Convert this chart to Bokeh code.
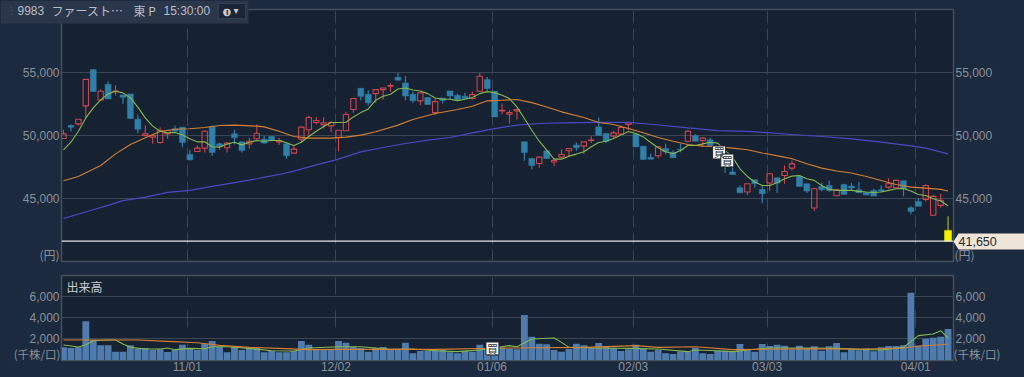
from bokeh.plotting import figure
from bokeh.layouts import column
from bokeh.models import FixedTicker, LinearAxis, Span, NumeralTickFormatter, Range1d
from bokeh.core.properties import value
from bokeh.embed import file_html
from bokeh.resources import INLINE

opens = [49760,50790,50920,52340,55210,52810,54050,53470,53210,53290,51290,50000,49870,49450,50130,50530,50660,48500,48740,49000,
         50710,49340,49030,50130,49500,49340,49740,49710,49920,49500,49340,48610,49710,50450,51030,50840,50760,49840,50370,52050,
         53730,53260,53310,53630,53900,54600,54160,53260,52740,53000,51810,52970,53520,53180,53100,52920,53500,54420,53500,51950,
         51680,51950,49500,48190,47790,48790,47900,48290,48790,49240,49160,49600,50680,50160,49950,50110,50870,50110,49160,48260,
         48400,48970,48680,48920,49550,50000,49610,49660,49100,48300,47110,45870,45530,46500,45740,46240,46660,46840,47420,46760,
         46190,44270,45970,46050,45240,46130,46000,45710,45480,45660,45710,45920,45870,46420,44290,44790,44950,43690,44480,42500]
highs = [50450,50870,51290,54440,55210,53660,54260,53970,53210,53290,51660,50820,50050,50660,50450,50790,50660,48870,49210,50400,
         50790,49420,49470,50450,49500,49820,50870,49970,49970,49820,49400,49180,50660,51580,51450,51450,51130,50420,51870,52920,
         53730,53580,53630,53760,54160,54940,54710,53450,53370,53000,52920,52970,53520,53310,53370,53450,54940,54630,53500,52520,
         52000,52130,49500,48190,48290,48790,48190,48900,48970,49450,49500,49950,51420,50160,50370,50790,51080,50110,49160,48580,
         49160,49370,48820,49340,50450,50100,49870,49820,49100,48500,47500,46050,46190,46500,46000,46980,46660,47630,48030,46800,
         46190,45870,46240,46450,45800,46190,46240,46320,45530,45800,46050,46630,46520,46420,44400,45050,46130,45320,45400,43610]
lows = [49760,50340,50790,51450,53470,52710,52890,53160,52500,51340,50180,49920,49340,49340,49740,50340,49080,48030,48690,48660,
        48370,48870,48660,49290,48660,48950,49660,49340,49550,49240,48160,48610,49450,50000,50870,50530,50260,48760,50370,51790,
        52790,52390,52580,52840,53450,54370,52790,52580,52390,52450,51600,52520,52840,52740,52840,52840,53450,53500,51470,51680,
        50920,51260,48000,47320,47450,48160,47580,48160,48320,48790,48530,49420,50000,49400,49760,50110,50420,49100,48110,48130,
        48210,48500,48240,48680,49450,49550,49160,49210,48500,47030,46920,45420,45270,45870,44660,45610,45450,46190,47240,45970,
        45450,44030,45600,45530,45240,45340,45660,45480,45290,45210,45530,45790,45870,45190,43770,44400,44790,43690,44290,41650]
closes = [50130,50660,51290,54440,53470,53500,52890,53520,53020,51340,50500,50130,50000,50400,50400,50340,49450,48080,49000,50340,
          48660,49160,49400,49820,48820,49550,50180,49400,49610,49610,48400,48920,50660,51420,51180,51000,51030,50420,51660,52920,
          53100,52580,53630,53760,53950,54370,53130,52740,53370,52450,52680,52760,53130,52840,52950,53230,54680,53710,51470,52000,
          51810,52050,48660,47630,48290,48190,48030,48500,48970,49030,49500,49650,50000,49530,50210,50630,51000,49100,48110,48130,
          49100,48710,48240,48870,50340,49550,49790,49210,48700,47900,46920,45480,46190,46190,45400,46980,46240,47160,47760,45970,
          45610,45790,45710,45660,45710,45340,45840,45480,45290,45210,45610,46190,46450,45790,44000,44400,46050,45190,44870,41650]

ma_short = [48870,49470,50340,51390,52180,52810,53290,53500,53370,52970,52240,51390,50740,50340,50210,50240,50050,49740,49500,49500,
            49110,49080,49320,49470,49260,49470,49610,49550,49610,49610,49420,49210,49470,49920,50340,50710,51030,51030,51050,51470,
            51810,52100,52790,53100,53260,53680,53760,53600,53520,53310,52970,52870,52870,52760,52870,53000,53310,53470,53390,53180,
            52920,52260,51340,50420,49550,48840,48130,48130,48370,48530,48710,49110,49450,49550,49760,50030,50320,50160,49890,49450,
            49030,48710,48550,48820,49210,49210,49340,49470,49400,48820,48290,47370,46760,46320,46050,46050,46260,46580,46790,46840,
            46580,46450,46050,45740,45660,45660,45660,45580,45530,45500,45530,45660,45790,45820,45610,45340,45260,45000,44820,44450]
ma_mid_idx = [0,2,5,7,9,11,13,15,17,19,21,23,26,27,29,31,33,36,38,40,42,45,47,50,53,55,57,59,61,63,65,67,70,72,74,76,78,80,82,84,86,88,90,92,94,97,98,100,102,104,106,108,110,112,114,116,118,119]
ma_mid = [46420,46760,47630,48550,49290,49820,50320,50500,50530,50630,50790,50820,50740,50680,50340,49920,49790,49790,49870,50030,50290,50820,51260,51740,52050,52310,52740,52790,52840,52600,52260,51870,51420,51030,50870,50550,50210,49840,49550,49290,49160,49130,49000,48870,48610,48290,48160,47760,47420,47190,47030,46760,46450,46130,45920,45840,45740,45610]
ma_long_idx = [0,3,6,8,11,14,17,20,23,26,29,31,34,37,40,43,46,49,52,55,58,61,64,67,72,76,79,84,88,92,94,98,102,106,110,114,116,119]
ma_long = [43450,43950,44480,44850,45130,45500,45660,45980,46270,46580,46920,47190,47680,48130,48710,49050,49370,49630,49840,50210,50550,50820,50950,51000,51030,51030,50890,50600,50390,50320,50240,50080,49920,49740,49470,49180,49000,48550]

volumes = [1200,1140,1200,3670,1900,1390,1390,790,790,1390,1070,1140,950,1010,760,950,1450,1140,950,1520,
           1800,1260,730,1230,950,1140,1140,730,850,730,730,850,1800,1450,950,1010,950,1800,1640,1260,
           1140,790,1140,1230,950,1010,1640,630,850,850,1010,950,730,630,880,790,1450,1070,1260,1170,
           1100,1010,4270,2210,1550,1490,950,790,1040,1550,1390,1170,1610,1230,1170,850,1010,1450,1140,790,
           950,630,570,800,790,1140,630,570,880,880,790,1520,1010,790,1520,1330,1450,1360,1010,1360,
           1140,1300,880,1300,1610,730,1010,920,1100,820,1200,1330,1330,1390,6380,1330,2020,2120,2210,2940]
vol_short_idx = [0,2,3,4,6,7,8,9,11,13,14,15,17,19,20,22,25,28,31,33,37,40,44,47,50,53,56,60,61,63,66,67,68,72,76,80,84,85,88,90,92,95,100,104,107,110,113,115,117,118,119]
vol_short = [1420,1230,1450,1830,1900,1900,1520,1200,1040,1040,1140,980,1100,1070,1260,1260,1100,880,850,1140,1260,1260,1010,1040,880,790,950,1360,1260,1990,2090,1670,1200,1140,1100,1040,790,950,880,790,950,1140,1140,1100,1010,950,1200,2310,2460,2780,2090]
vol_mid_idx = [0,10,14,18,21,25,29,33,37,50,60,70,77,80,85,90,100,108,113,115,118,119]
vol_mid = [1900,1900,1770,1640,1390,1200,1100,980,1010,1010,1140,1200,1360,1200,1260,980,1070,1040,1140,1330,1450,1520]

date_pos = [16.65,36.65,57.65,76.65,94.65,114.65]
date_labels = ["11/01","12/02","01/06","02/03","03/03","04/01"]
price_ticks = [45000,50000,55000]
vol_ticks = [2000,4000,6000]
last_price = 41650
buy_x = [88.2,89.3]
buy_y = [48660,48020]
buy_vol_x = [57.7]
buy_vol_y = [1090]

BG="#1b2a3f"; PANEL="#162232"; GRID="#3a4654"; FRAME="#444f5e"; TXT="#8b9097"
RED="#cf444b"; BLUE="#2f7fa9"; VOLC="#4f7cad"
GREEN="#84b94e"; ORANGE="#d67f30"; INDIGO="#4a48c4"
LAT="Liberation Sans"; CJK="Noto Sans CJK JP"
LEFT=61; RIGHT=953; W=1024; TOTAL=377
H1=268; TOP1=9; BOT1=261
H2=109; TOP2=275-H1; BOT2=360-H1

n=len(opens)
xs=list(range(n))
xr=(-0.27,119.73)

def mk(h,top,bot,yr):
    p=figure(width=W,height=h,x_range=xr,y_range=yr,output_backend="svg",toolbar_location=None,frame_align=False,
             min_border_left=LEFT,min_border_right=W-RIGHT,min_border_top=top,min_border_bottom=h-bot,
             background_fill_color=PANEL,border_fill_color=BG,outline_line_color=FRAME,outline_line_width=1.5)
    p.xgrid.ticker=FixedTicker(ticks=date_pos)
    p.xgrid.grid_line_color=GRID
    p.ygrid.grid_line_color=GRID
    return p

def style_axis(a):
    a.axis_line_color=None; a.major_tick_line_color=None; a.minor_tick_line_color=None
    a.major_tick_out=0; a.major_tick_in=0; a.minor_tick_out=0; a.minor_tick_in=0
    a.major_label_text_color=TXT; a.major_label_text_font=LAT; a.major_label_text_font_size="12px"
    a.major_label_standoff=2

# ---- price pane
y0=50000+(135-BOT1)*79.05; y1=50000+(135-TOP1)*79.05
p1=mk(H1,TOP1,BOT1,(y0,y1))
p1.xgrid.grid_line_dash="12 5"
p1.xaxis.visible=False
p1.yaxis[0].ticker=FixedTicker(ticks=price_ticks)
p1.yaxis[0].formatter=NumeralTickFormatter(format="0,0")
style_axis(p1.yaxis[0])
a=LinearAxis(ticker=FixedTicker(ticks=price_ticks),formatter=NumeralTickFormatter(format="0,0"))
style_axis(a); p1.add_layout(a,"right")
p1.ygrid.ticker=FixedTicker(ticks=price_ticks)

up=[i for i in xs[:-1] if closes[i]>=opens[i]]
dn=[i for i in xs[:-1] if closes[i]<opens[i]]
p1.segment(dn,[highs[i] for i in dn],dn,[lows[i] for i in dn],color=BLUE,line_width=1.2)
p1.vbar(dn,top=[opens[i] for i in dn],bottom=[closes[i] for i in dn],width=0.8,
        fill_color=BLUE,line_color=BLUE,line_width=0.5)
p1.segment(up,[highs[i] for i in up],up,[closes[i] for i in up],color=RED,line_width=1.1)
p1.segment(up,[opens[i] for i in up],up,[lows[i] for i in up],color=RED,line_width=1.1)
p1.vbar(up,top=[closes[i] for i in up],bottom=[opens[i] for i in up],width=0.72,
        fill_color=None,line_color=RED,line_width=1.1)
p1.line(ma_long_idx,ma_long,line_color=INDIGO,line_width=1.2)
p1.line(ma_mid_idx,ma_mid,line_color=ORANGE,line_width=1.1)
p1.line(xs,ma_short,line_color=GREEN,line_width=1.1)
p1.segment([n-1],[highs[-1]],[n-1],[lows[-1]],color="#8f8f12",line_width=1.5)
p1.vbar([n-1],top=[opens[-1]],bottom=[closes[-1]],width=0.95,fill_color="#f4f400",line_color="#f4f400",line_width=0.5)
p1.add_layout(Span(location=last_price,dimension="width",line_color="#e4e6e8",line_width=1.2))
p1.scatter(buy_x,buy_y,marker="square",size=13,fill_color="#f4f4f4",line_color="#20242a",line_width=1)
p1.text(buy_x,buy_y,text=["買"]*2,text_font=value(CJK),text_font_size=value("11px"),text_color="#333a44",
        text_align="center",text_baseline="middle")

# ---- volume pane
k=94.8
p2=mk(H2,TOP2,BOT2,(-0.5*k,84.5*k))
p2.xgrid.grid_line_dash="17 16"
p2.ygrid.ticker=FixedTicker(ticks=vol_ticks)
p2.yaxis[0].ticker=FixedTicker(ticks=vol_ticks)
p2.yaxis[0].formatter=NumeralTickFormatter(format="0,0")
style_axis(p2.yaxis[0])
a2=LinearAxis(ticker=FixedTicker(ticks=vol_ticks),formatter=NumeralTickFormatter(format="0,0"))
style_axis(a2); p2.add_layout(a2,"right")
p2.vbar(xs,top=volumes,bottom=0,width=0.92,fill_color=VOLC,line_color=None)
p2.line(vol_short_idx,vol_short,line_color=GREEN,line_width=1.1)
p2.line(vol_mid_idx,vol_mid,line_color=ORANGE,line_width=1.1)
p2.scatter(buy_vol_x,buy_vol_y,marker="square",size=13,fill_color="#f4f4f4",line_color="#20242a",line_width=1)
p2.text(buy_vol_x,buy_vol_y,text=["買"],text_font=value(CJK),text_font_size=value("11px"),text_color="#333a44",
        text_align="center",text_baseline="middle")
ax=p2.xaxis[0]
ax.ticker=FixedTicker(ticks=date_pos)
ax.major_label_overrides=dict(zip(date_pos,date_labels))
style_axis(ax); ax.major_label_standoff=-1

# ---- overlay for the page furniture outside the panes (canvas pixels)
ov=figure(width=W,height=TOTAL,x_range=Range1d(0,W),y_range=Range1d(TOTAL,0),x_axis_type=None,y_axis_type=None,
          output_backend="svg",toolbar_location=None,min_border=0,background_fill_color=None,border_fill_color=None,
          outline_line_color=None,margin=(-TOTAL,0,0,0),frame_align=False)
ov.xgrid.visible=False; ov.ygrid.visible=False

def txt(text,x,y,font=LAT,size="12px",color=TXT,align="left",style="normal"):
    ov.text([x],[y],text=[text],text_font=value(font),text_font_size=value(size),text_color=color,
            text_align=align,text_baseline="middle",text_font_style=style)

txt("(円)",59,254,font=CJK,align="right")
txt("(円)",954,254,font=CJK)
ov.patch([953,958,1024,1024,958],[241,233,233,249,249],fill_color="#efe4d8",line_color=None)
txt("41,650",958,241,size="12.5px",color="#262b33")

ov.quad(left=[0],right=[248],top=[0],bottom=[23],fill_color="#2a3649",line_color=None)
ov.quad(left=[218],right=[245],top=[3],bottom=[18],fill_color="#1b2438",line_color="#353f52")
txt("9983",17,10,color="#b9bdc4")
txt("ファースト…",51,10,font=CJK,color="#b9bdc4")
txt("東 P",133,10,font=CJK,color="#b9bdc4")
txt("15:30:00",163,10,color="#b9bdc4")
txt("●",222,11,font="DejaVu Sans",size="10px",color="#c4c8ce")
txt("i",225.5,11,size="9px",color="#1b2438",style="bold")
txt("▾",233,10,font="DejaVu Sans",size="10px",color="#c4c8ce")
txt("⋮",6,10,font="DejaVu Sans",size="10px",color="#4b5668")

txt("出来高",66,286,font=CJK,color="#c9ccd1")
txt("(千株/口)",60,353,font=CJK,size="11.5px",align="right")
txt("(千株/口)",953,353,font=CJK,size="11.5px")

page=column(p1,p2,ov,spacing=0,styles={"background":BG})
open("out.html","w").write(file_html(page,INLINE))
